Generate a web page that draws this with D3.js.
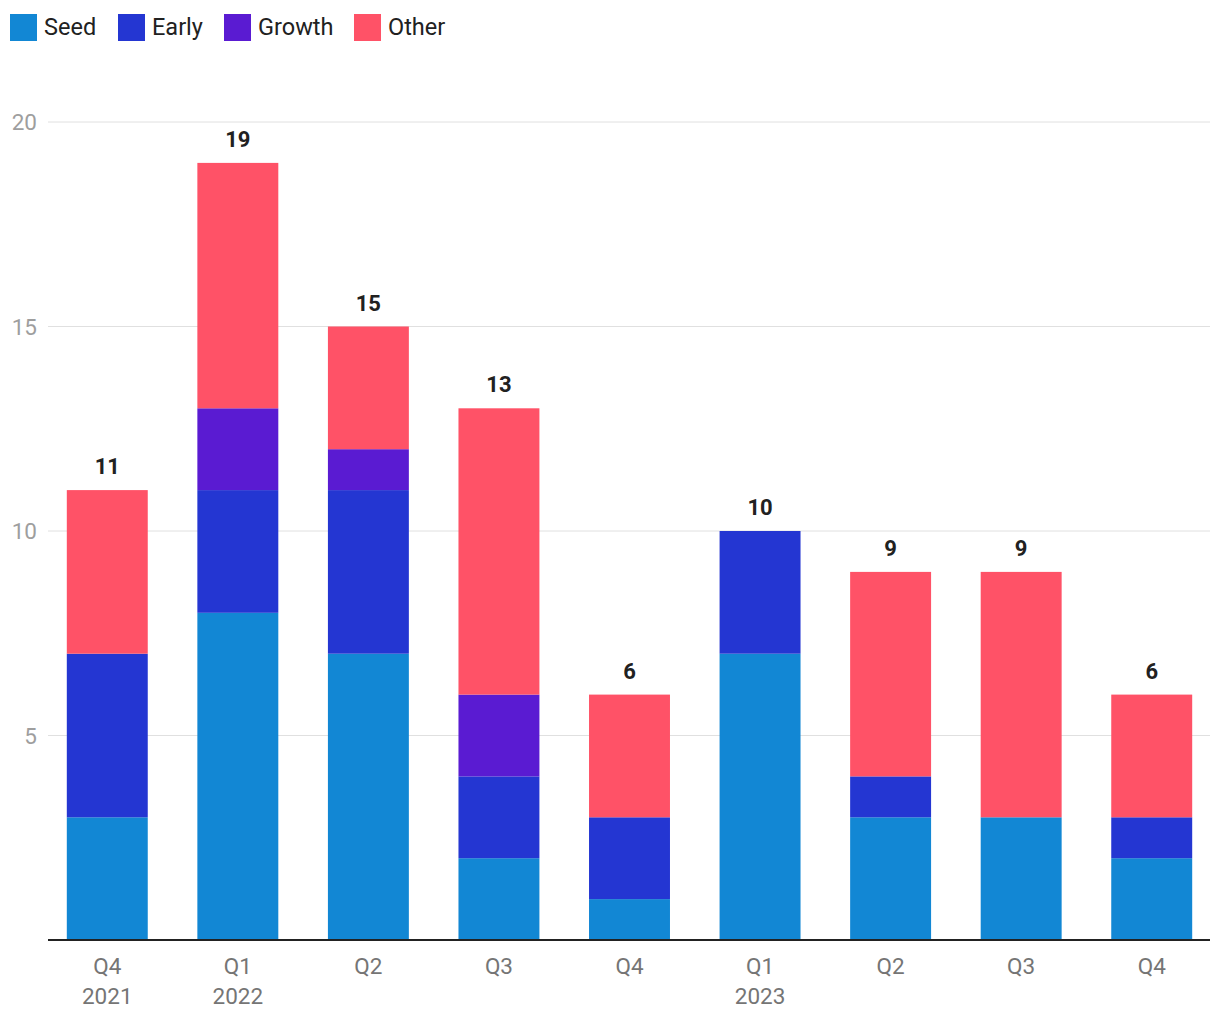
<!DOCTYPE html>
<html><head><meta charset="utf-8">
<script src="https://cdn.jsdelivr.net/npm/d3@7"></script>
<style>body{margin:0;background:#fff;font-family:Roboto,"Noto Sans",sans-serif;}</style>
</head><body>
<svg id="c" width="1220" height="1020"></svg>
<script>
const quarters = ["Q4","Q1","Q2","Q3","Q4","Q1","Q2","Q3","Q4"];
const years = ["2021","2022","","","","2023","","",""];
const seriesNames = ["Seed","Early","Growth","Other"];
const seriesColors = ["#1287d4","#2436d2","#5a1bd2","#ff5267"];
const seed =   [3,8,7,2,1,7,3,3,2];
const early =  [4,3,4,2,2,3,1,0,1];
const growth = [0,2,1,2,0,0,0,0,0];
const other =  [4,6,3,7,3,0,5,6,3];
const yTicks = [5,10,15,20];

const svg = d3.select("#c");
const rows = quarters.map((q,i)=>({i, Seed:seed[i], Early:early[i], Growth:growth[i], Other:other[i]}));
const x = d3.scaleBand().domain(d3.range(quarters.length)).range([42,1217]).paddingInner(0.38).paddingOuter(0.19);
const y = d3.scaleLinear().domain([0,20]).range([940,122]);

// grid
svg.append("g").selectAll("line").data(yTicks).join("line")
  .attr("x1",48).attr("x2",1210).attr("y1",d=>y(d)).attr("y2",d=>y(d))
  .attr("stroke","#e0e0e0").attr("stroke-width",1);
svg.append("g").selectAll("text").data(yTicks).join("text")
  .attr("x",37).attr("y",d=>y(d)+8).attr("text-anchor","end")
  .attr("font-size",22.5).attr("fill","#9e9e9e").text(d=>d);

const stack = d3.stack().keys(seriesNames)(rows);
svg.append("g").selectAll("g").data(stack).join("g")
  .attr("fill",(d,k)=>seriesColors[k])
  .selectAll("rect").data(d=>d).join("rect")
  .attr("x",d=>x(d.data.i)).attr("width",x.bandwidth())
  .attr("y",d=>y(d[1])).attr("height",d=>y(d[0])-y(d[1]));

// totals
svg.append("g").selectAll("text").data(rows).join("text")
  .attr("x",d=>x(d.i)+x.bandwidth()/2)
  .attr("y",d=>y(d.Seed+d.Early+d.Growth+d.Other)-16)
  .attr("text-anchor","middle").attr("font-size",22).attr("font-weight","bold").attr("fill","#212121")
  .text(d=>d.Seed+d.Early+d.Growth+d.Other);

// axis line
svg.append("line").attr("x1",48).attr("x2",1210).attr("y1",940).attr("y2",940)
  .attr("stroke","#222").attr("stroke-width",2);

// x labels
const xl = svg.append("g").selectAll("text").data(quarters).join("text")
  .attr("text-anchor","middle").attr("font-size",22.5).attr("fill","#757575");
xl.append("tspan").attr("x",(d,i)=>x(i)+x.bandwidth()/2).attr("y",974).text(d=>d);
xl.append("tspan").attr("x",(d,i)=>x(i)+x.bandwidth()/2).attr("y",1004).text((d,i)=>years[i]);

// legend
const legX = [10,118,224,354];
const lg = svg.append("g").selectAll("g").data(seriesNames).join("g")
  .attr("transform",(d,i)=>`translate(${legX[i]},14)`);
lg.append("rect").attr("width",27).attr("height",27).attr("fill",(d,i)=>seriesColors[i]);
lg.append("text").attr("x",34).attr("y",21).attr("font-size",23.5).attr("fill","#212121").text(d=>d);
</script>
</body></html>
